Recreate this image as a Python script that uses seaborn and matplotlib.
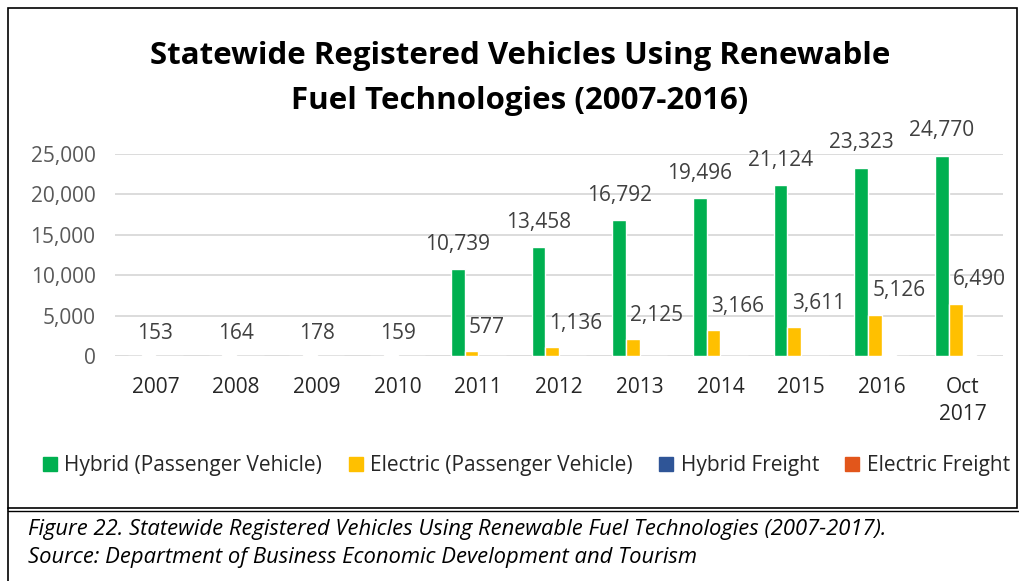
import pandas as pd
import matplotlib.pyplot as plt
import seaborn as sns
from matplotlib.lines import Line2D
from matplotlib.patches import Rectangle
from matplotlib.ticker import FuncFormatter

# values
years = ['2007', '2008', '2009', '2010', '2011', '2012', '2013', '2014', '2015', '2016', 'Oct\n2017']
hybrid_pv = [0, 0, 0, 0, 10739, 13458, 16792, 19496, 21124, 23323, 24770]
electric_pv = [153, 164, 178, 159, 577, 1136, 2125, 3166, 3611, 5126, 6490]
hybrid_freight = [0, 0, 0, 0, 40, 45, 50, 55, 60, 65, 70]   # too small to see, estimated
electric_freight = [0, 0, 0, 0, 5, 6, 8, 10, 12, 14, 16]    # too small to see, estimated
series_names = ['Hybrid (Passenger Vehicle)', 'Electric (Passenger Vehicle)',
                'Hybrid Freight', 'Electric Freight']
colors = ['#00B050', '#FFC000', '#2F5597', '#E2561B']

rows = []
for name, vals in zip(series_names, [hybrid_pv, electric_pv, hybrid_freight, electric_freight]):
    for yr, v in zip(years, vals):
        rows.append({'year': yr, 'series': name, 'count': v})
df = pd.DataFrame(rows)

sns.set_theme(style='white')
plt.rcParams['font.family'] = ['Open Sans', 'DejaVu Sans']

fig = plt.figure(figsize=(10.19, 5.81), dpi=100)
ax = fig.add_axes([115 / 1019, 1 - 356 / 581, (1003 - 115) / 1019, (356 - 154) / 581])

sns.barplot(data=df, x='year', y='count', hue='series', hue_order=series_names,
            palette=colors, order=years, width=0.68, saturation=1, ax=ax)
ax.get_legend().remove()

ax.set_ylim(0, 25000)
ax.set_xlim(-0.5, len(years) - 0.5)
ax.yaxis.set_major_formatter(FuncFormatter(lambda v, p: f'{v:,.0f}'))
ax.set_yticks(range(0, 25001, 5000))
ax.yaxis.grid(True, color='#d9d9d9', lw=1.3)
ax.set_axisbelow(True)
for s in ax.spines.values():
    s.set_visible(False)
ax.tick_params(axis='y', length=0, pad=14, labelsize=15, labelcolor='#595959')
ax.tick_params(axis='x', length=0, pad=15, labelsize=15, labelcolor='#262626')
for lbl in ax.get_xticklabels():
    lbl.set_linespacing(1.4)
ax.set_xlabel('')
ax.set_ylabel('')

# data labels for the two passenger series
green_bars = ax.containers[0]
for i in range(len(years)):
    g = green_bars[i]
    if hybrid_pv[i] > 0:
        ax.annotate(f'{hybrid_pv[i]:,}', (g.get_x() + g.get_width() / 2, hybrid_pv[i]),
                    xytext=(0, 18), textcoords='offset points', ha='center', va='center',
                    fontsize=15, color='#404040', annotation_clip=False)
        ax.annotate(f'{electric_pv[i]:,}', (g.get_x() + g.get_width(), electric_pv[i]),
                    xytext=(3, 17), textcoords='offset points', ha='left', va='center',
                    fontsize=15, color='#404040', annotation_clip=False)
    else:
        ax.annotate(f'{electric_pv[i]:,}', (i, electric_pv[i]),
                    xytext=(0, 15), textcoords='offset points', ha='center', va='center',
                    fontsize=15, color='#404040', annotation_clip=False)

fig.text(0.510, 1 - 56 / 581, 'Statewide Registered Vehicles Using Renewable',
         ha='center', va='center', fontsize=22.5, fontweight='bold', color='black')
fig.text(0.510, 1 - 101 / 581, 'Fuel Technologies (2007-2016)',
         ha='center', va='center', fontsize=22.5, fontweight='bold', color='black')

leg_handles = [Line2D([], [], marker='s', linestyle='', markersize=10, color=c) for c in colors]
fig.legend(leg_handles, series_names, loc='center', bbox_to_anchor=(0.516, 1 - 466 / 581),
           ncol=4, frameon=False, fontsize=15, handlelength=0.8, handletextpad=0.3,
           columnspacing=1.2, labelcolor='#262626')

# chart border and caption box
fig.patches.append(Rectangle((8 / 1019, 1 - 508 / 581), 1009 / 1019, 500 / 581,
                             transform=fig.transFigure, fill=False, ec='black', lw=1.2))
fig.lines.append(Line2D([8 / 1019, 1], [1 - 510.5 / 581] * 2, transform=fig.transFigure,
                        color='black', lw=1.0))
fig.lines.append(Line2D([8 / 1019] * 2, [1 - 508 / 581, 0], transform=fig.transFigure,
                        color='black', lw=1.2))

fig.text(28 / 1019, 1 - 529 / 581,
         'Figure 22. Statewide Registered Vehicles Using Renewable Fuel Technologies (2007-2017).',
         ha='left', va='center', fontsize=15.8, style='italic', color='black')
fig.text(28 / 1019, 1 - 557 / 581,
         'Source: Department of Business Economic Development and Tourism',
         ha='left', va='center', fontsize=15.8, style='italic', color='black')

fig.savefig('out.png', dpi=100)
